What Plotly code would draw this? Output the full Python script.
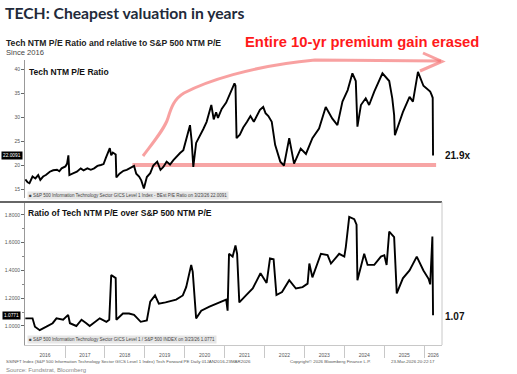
import plotly.graph_objects as go

W, H = 517, 374

# ---------------- data ----------------
pe_dates = [
    "2016-01-04", "2016-01-25", "2016-02-11", "2016-03-10", "2016-04-05", "2016-05-01", "2016-05-20",
    "2016-06-15", "2016-07-10", "2016-08-15", "2016-09-15", "2016-10-20", "2016-11-10", "2016-12-01",
    "2017-01-05", "2017-01-20", "2017-02-01", "2017-02-10", "2017-03-20", "2017-04-20", "2017-05-25",
    "2017-06-20", "2017-07-25", "2017-08-25", "2017-09-25", "2017-10-25", "2017-11-25", "2017-12-20",
    "2018-01-10", "2018-02-15", "2018-02-28", "2018-03-15", "2018-04-10", "2018-04-16", "2018-05-15",
    "2018-06-20", "2018-07-20", "2018-08-25", "2018-09-25", "2018-10-15", "2018-11-10", "2018-11-30",
    "2018-12-24", "2019-01-20", "2019-02-20", "2019-03-20", "2019-04-25", "2019-05-25", "2019-06-20",
    "2019-07-20", "2019-08-20", "2019-09-20", "2019-10-20", "2019-11-20", "2019-12-20", "2020-01-20",
    "2020-02-19", "2020-03-05", "2020-03-20", "2020-04-15", "2020-05-20", "2020-06-20", "2020-07-20",
    "2020-09-01", "2020-09-23", "2020-10-15", "2020-11-01", "2020-12-05", "2021-01-15", "2021-02-15",
    "2021-03-15", "2021-04-01", "2021-04-10", "2021-04-20", "2021-05-20", "2021-06-20", "2021-07-25",
    "2021-08-25", "2021-09-25", "2021-10-25", "2021-11-20", "2021-12-20", "2022-01-10", "2022-02-05",
    "2022-03-08", "2022-04-08", "2022-05-25", "2022-06-28", "2022-08-15", "2022-09-28", "2022-11-28",
    "2023-01-15", "2023-03-15", "2023-05-15", "2023-07-15", "2023-09-12", "2023-10-30", "2023-12-15",
    "2024-02-01", "2024-03-15", "2024-04-15", "2024-04-30", "2024-06-01", "2024-07-15", "2024-08-15",
    "2024-10-01", "2024-12-15", "2025-02-15", "2025-03-15", "2025-04-01", "2025-04-08", "2025-06-20",
    "2025-08-20", "2025-09-20", "2025-11-05", "2025-12-25", "2026-02-25", "2026-03-10", "2026-03-20",
    "2026-03-23",
]
pe_values = [
    17.0, 16.4, 16.2, 17.6, 17.2, 17.9, 16.9,
    17.6, 17.9, 18.6, 18.9, 19.0, 18.7, 19.3,
    19.7, 20.3, 22.0, 17.9, 18.3, 18.6, 19.3,
    18.9, 19.3, 19.0, 19.3, 19.8, 20.0, 20.2,
    21.5, 23.5, 22.0, 22.6, 22.2, 17.4, 18.2,
    18.8, 19.0, 19.4, 19.8, 18.2, 17.6, 16.8,
    15.1, 17.5, 18.3, 19.9, 20.7, 19.0, 19.6,
    20.7, 20.1, 21.0, 21.8, 22.5, 23.1, 25.5,
    28.3, 25.0, 19.6, 24.6, 26.0, 27.5, 29.0,
    32.5, 29.5, 31.0, 29.8, 31.7, 33.0, 34.6,
    36.0, 37.0, 36.5, 25.6, 26.3, 27.8, 29.0,
    30.2, 29.0, 30.5, 31.5, 32.1, 30.8, 30.2,
    29.0, 24.2, 20.7, 19.9, 25.6, 20.3, 23.4,
    22.3, 25.6, 27.6, 32.1, 29.7, 28.3, 33.2,
    35.6, 39.1, 37.5, 28.0, 32.5, 33.9, 32.5,
    35.3, 39.1, 37.5, 33.9, 30.4, 26.2, 31.0,
    34.2, 33.2, 39.4, 36.5, 35.3, 34.6, 34.0,
    22.0,
]

rel_dates = [
    "2016-01-04", "2016-03-10", "2016-04-01", "2016-05-15", "2016-07-15", "2016-09-10", "2016-10-15",
    "2016-12-15", "2017-01-30", "2017-02-15", "2017-04-15", "2017-06-01", "2017-07-15", "2017-08-15",
    "2017-11-15", "2018-01-15", "2018-02-10", "2018-02-28", "2018-04-10", "2018-04-16", "2018-06-15",
    "2018-08-10", "2018-09-25", "2018-11-25", "2019-01-20", "2019-02-20", "2019-04-05", "2019-05-10",
    "2019-07-10", "2019-10-15", "2019-12-15", "2020-01-15", "2020-03-01", "2020-03-15", "2020-04-15",
    "2020-06-01", "2020-08-15", "2020-11-15", "2021-01-15", "2021-01-28", "2021-02-10", "2021-03-15",
    "2021-04-10", "2021-04-25", "2021-05-15", "2021-07-15", "2021-09-15", "2021-11-25", "2022-01-20",
    "2022-02-20", "2022-03-25", "2022-04-20", "2022-06-10", "2022-08-15", "2022-10-15", "2022-12-15",
    "2023-01-30", "2023-02-15", "2023-03-15", "2023-06-01", "2023-08-01", "2023-09-01", "2023-11-15",
    "2024-01-01", "2024-01-15", "2024-02-15", "2024-04-01", "2024-04-22", "2024-04-30", "2024-07-01",
    "2024-08-01", "2024-10-01", "2024-12-01", "2025-01-01", "2025-01-22", "2025-02-15", "2025-04-01",
    "2025-04-25", "2025-06-20", "2025-08-20", "2025-10-25", "2025-12-25", "2026-02-10", "2026-02-25",
    "2026-03-10", "2026-03-17", "2026-03-23",
]
rel_values = [
    1.055, 1.055, 0.995, 0.970, 0.995, 1.020, 1.055,
    1.045, 1.080, 1.020, 1.000, 1.045, 1.020, 1.000,
    1.055, 1.030, 1.045, 1.367, 1.345, 1.045, 1.090,
    1.090, 1.080, 1.030, 1.040, 1.175, 1.220, 1.160,
    1.170, 1.190, 1.220, 1.280, 1.440, 1.390, 1.055,
    1.110, 1.140, 1.170, 1.190, 1.110, 1.520, 1.500,
    1.580, 1.520, 1.170, 1.220, 1.270, 1.380, 1.310,
    1.487, 1.480, 1.223, 1.245, 1.330, 1.270, 1.280,
    1.305, 1.450, 1.350, 1.520, 1.510, 1.450, 1.520,
    1.500, 1.570, 1.786, 1.770, 1.730, 1.330, 1.520,
    1.440, 1.440, 1.500, 1.510, 1.440, 1.680, 1.640,
    1.235, 1.343, 1.400, 1.500, 1.400, 1.340, 1.300,
    1.630, 1.645, 1.077,
]

pe_last_label = "22.0091"
pe_last_value = 22.0091
rel_last_label = "1.0771"
rel_last_value = 1.0771
pe_callout = 21.9
rel_callout = 1.07
pe_floor = 20.0
floor_start, floor_end = "2018-09-10", "2026-04-20"

years = list(range(2016, 2027))
year_label_pos = [f"{y}-07-02" for y in years[:-1]] + ["2026-03-25"]
year_bounds = [f"{y}-01-01" for y in years[1:]]
pe_ticks = [15, 20, 25, 30, 35, 40]
rel_ticks = [1.0, 1.2, 1.4, 1.6, 1.8]
rel_minor = [1.1, 1.3, 1.5, 1.7]

# ---------------- helpers (pixel -> paper) ----------------
def px(x):
    return x / W

def py(y):
    return 1 - y / H

def pt(x, y):
    return f"{px(x):.5f},{py(y):.5f}"

FONT = "Liberation Sans, Arial, sans-serif"

fig = go.Figure()
fig.add_trace(go.Scatter(x=pe_dates, y=pe_values, mode="lines",
                         line=dict(color="black", width=1.9), xaxis="x2", yaxis="y",
                         showlegend=False, hoverinfo="skip"))
fig.add_trace(go.Scatter(x=rel_dates, y=rel_values, mode="lines",
                         line=dict(color="black", width=1.9), xaxis="x", yaxis="y2",
                         showlegend=False, hoverinfo="skip"))

x_dom = [px(25), px(442)]
x_range = ["2016-01-01", "2026-06-13"]

fig.update_layout(
    width=W, height=H, autosize=False,
    margin=dict(l=0, r=0, t=0, b=0),
    paper_bgcolor="white", plot_bgcolor="white",
    font=dict(family=FONT, color="#333"),
    xaxis=dict(domain=x_dom, anchor="y2", range=x_range, type="date",
               tickmode="array", tickvals=year_label_pos, ticktext=[str(y) for y in years],
               ticks="", ticklabelstandoff=5, tickfont=dict(size=5, color="#555"),
               showline=True, linecolor="#c8c8c8", linewidth=1,
               showgrid=False, zeroline=False,
               minor=dict(tickmode="array", tickvals=year_bounds, ticks="outside",
                          ticklen=12, tickcolor="#c8c8c8", tickwidth=1, showgrid=False)),
    xaxis2=dict(domain=x_dom, anchor="y", matches="x", type="date",
                showticklabels=False, ticks="", showline=False, showgrid=False, zeroline=False),
    yaxis=dict(domain=[py(198), py(60)], anchor="x2", range=[13.125, 41.875],
               tickmode="array", tickvals=pe_ticks, ticks="outside", ticklen=3,
               tickcolor="#666", tickwidth=1, tickfont=dict(size=5, color="#555"),
               showline=True, linecolor="#999", linewidth=1,
               showgrid=False, zeroline=False),
    yaxis2=dict(domain=[py(345), py(203)], anchor="x", range=[0.863, 1.886],
                tickmode="array", tickvals=rel_ticks, tickformat=".4f", ticks="outside", ticklen=3,
                tickcolor="#666", tickwidth=1, tickfont=dict(size=5, color="#555"),
                showline=True, linecolor="#999", linewidth=1,
                showgrid=False, zeroline=False,
                minor=dict(tickmode="array", tickvals=rel_minor, ticks="outside", ticklen=2,
                           tickcolor="#888", showgrid=False)),
)

shapes = [
    # premium floor line
    dict(type="line", xref="x2", yref="y", x0=floor_start, x1=floor_end, y0=pe_floor, y1=pe_floor,
         line=dict(color="rgba(242,105,105,0.6)", width=4), layer="below"),
    # curved arrow
    dict(type="path", xref="paper", yref="paper",
         path=(f"M {pt(143,156)} C {pt(155,140)} {pt(165,128)} {pt(168,118)} "
               f"C {pt(171,108)} {pt(174,99)} {pt(184,93)} "
               f"C {pt(205,82)} {pt(250,66)} {pt(315,60)} L {pt(441,61)}"),
         line=dict(color="rgba(245,110,110,0.65)", width=3)),
    dict(type="path", xref="paper", yref="paper",
         path=f"M {pt(423,53)} L {pt(442,61.5)} L {pt(420,71)}",
         line=dict(color="rgba(245,110,110,0.65)", width=3)),
    # panel divider
    dict(type="line", xref="paper", yref="paper", x0=0, x1=px(442), y0=py(202), y1=py(202),
         line=dict(color="#333", width=1.5)),
    # right frame
    dict(type="line", xref="paper", yref="paper", x0=px(442), x1=px(442), y0=py(202), y1=py(345),
         line=dict(color="#c8c8c8", width=1)),
]
fig.update_layout(shapes=shapes)

ann = []
def text(x, y, s, size, color="#333", xanchor="left", bold=False, family=FONT, **kw):
    ann.append(dict(xref="paper", yref="paper", x=px(x), y=py(y), text=f"<b>{s}</b>" if bold else s,
                    showarrow=False, xanchor=xanchor, yanchor="middle",
                    font=dict(size=size, color=color, family=family), **kw))

text(3, 12.5, "TECH: Cheapest valuation in years", 15.7, color="#222a3a", bold=True,
     family="Lato, Liberation Sans, sans-serif")
text(4, 42.5, "Tech NTM P/E Ratio and relative to S&amp;P 500 NTM P/E", 8.6, color="#222", bold=True)
text(4, 52.5, "Since 2016", 7.6, color="#444")
text(361.5, 41.5, "Entire 10-yr premium gain erased", 14.8, color="#ff1a1a", xanchor="center", bold=True)
text(27, 71.5, "Tech NTM P/E Ratio", 8.5, color="#111", bold=True)
text(26, 213, "Ratio of Tech NTM P/E over S&amp;P 500 NTM P/E", 8.5, color="#111", bold=True)
text(27, 195,
     "■ S&amp;P 500 Information Technology Sector GICS Level 1 Index - BEst P/E Ratio on 3/23/26 "
     + pe_last_label, 4.5, color="#444", bgcolor="#e6e6e6", borderpad=1)
text(27, 339.5,
     "■ S&amp;P 500 Information Technology Sector GICS Level 1 / S&amp;P 500 INDEX on 3/23/26 "
     + rel_last_label, 4.5, color="#444", bgcolor="#e6e6e6", borderpad=1)
text(4, 361.5,
     "SSINFT Index (S&amp;P 500 Information Technology Sector GICS Level 1 Index) Tech Forward PE Daily "
     "01JAN2016-23MAR2026", 4.4, color="#555")
text(330, 361.5, "Copyright© 2026 Bloomberg Finance L.P.", 4.4, color="#555", xanchor="center")
text(413, 361.5, "23-Mar-2026 20:22:17", 4.4, color="#555", xanchor="center")
text(4, 369.5, "Source: Fundstrat, Bloomberg", 6.0, color="#888")

# value boxes on the axes and call-outs
ann.append(dict(xref="paper", yref="y", x=px(11.5), y=pe_last_value, text=pe_last_label,
                showarrow=False, xanchor="center", yanchor="middle", bgcolor="black", borderpad=1,
                font=dict(size=4.8, color="white", family=FONT)))
ann.append(dict(xref="paper", yref="y2", x=px(11.5), y=rel_last_value, text=rel_last_label,
                showarrow=False, xanchor="center", yanchor="middle", bgcolor="black", borderpad=1,
                font=dict(size=4.8, color="white", family=FONT)))
ann.append(dict(xref="paper", yref="y", x=px(443), y=pe_callout, text=f"<b>{pe_callout}x</b>",
                showarrow=False, xanchor="left", yanchor="middle",
                font=dict(size=10, color="#111", family=FONT)))
ann.append(dict(xref="paper", yref="y2", x=px(443), y=rel_callout, text=f"<b>{rel_callout:.2f}</b>",
                showarrow=False, xanchor="left", yanchor="middle",
                font=dict(size=10, color="#111", family=FONT)))
fig.update_layout(annotations=ann)

fig.write_html("out.html", config={"displayModeBar": False},
               post_script="document.body.style.margin='0px';document.body.style.overflow='hidden';")
